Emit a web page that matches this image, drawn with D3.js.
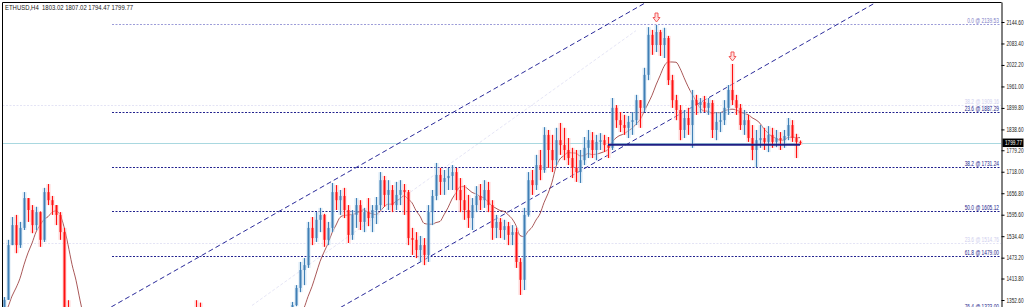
<!DOCTYPE html>
<html><head><meta charset="utf-8">
<script src="https://cdn.jsdelivr.net/npm/d3@7"></script>
<style>body{margin:0;background:#fff;} svg{display:block;}</style>
</head><body><svg id="c" width="1031" height="307"></svg>
<script>
// ---------------- data ----------------
const symbolTitle = "ETHUSD,H4";
const lastQuote = [1803.02, 1807.02, 1794.47, 1799.77]; // O H L C of last bar
const firstOpen = 1300;
const highs = [
 1305,1320,1300,1315,1325,1310,1320,1335,1330,
 1361,1524,1589,1595,1575,1660,1643,1623,1618,1605,1672,1683,1649,1623,1603,1558,
 1352,1140,1130,1165,1185,1200,1190,1175,1210,1225,1240,1220,1215,1245,1260,1250,1270,1280,1265,1255,1250,1270,1285,1275,1260,1280,1295,1285,1300,1310,1300,1320,1352,1345,1305,1290,1280,1290,1275,1265,1280,1270,1285,1275,1270,1285,1295,1285,1300,1290,1305,1295,1290,1295,1288,1300,
 1347,1395,1461,1472,1575,1589,1603,1615,1598,1575,1686,1680,1666,1672,1623,1609,1643,1637,1615,1643,1623,1646,1717,1706,1694,1680,1689,1694,1683,1666,1558,1546,1535,1529,1623,1666,1743,1729,1723,1729,1737,1729,1700,1680,1652,1643,1677,1683,1694,1689,1637,1595,1586,1581,1575,1566,1558,1472,1615,1717,1723,1766,1780,1845,1837,1823,1843,1857,1843,1814,1786,1780,1780,1817,1837,1831,1823,1828,1823,1817,1928,1908,1888,1880,1877,1888,1937,1922,2014,2130,2122,2136,2122,2128,2105,1994,1937,1908,1894,1900,1951,1937,1928,1934,1928,1922,1888,1888,1922,1965,2025,1937,1911,1894,1880,1851,1837,1851,1843,1848,1843,1837,1831,1837,1871,1865,1826,1807.02
];
const lows = [
 1275,1290,1270,1285,1295,1280,1290,1305,1300,
 1310,1353,1509,1486,1501,1552,1575,1543,1552,1504,1518,1623,1595,1566,1524,1267,
 1085,1072,1070,1105,1130,1150,1130,1120,1150,1175,1190,1170,1165,1195,1210,1200,1220,1230,1215,1200,1195,1225,1240,1225,1210,1235,1250,1240,1255,1265,1255,1270,1290,1280,1255,1240,1230,1240,1225,1215,1235,1220,1240,1225,1220,1240,1250,1240,1255,1245,1260,1250,1245,1250,1245,1255,
 1267,1335,1375,1395,1444,1509,1518,1546,1504,1509,1546,1609,1595,1586,1515,1524,1558,1552,1546,1563,1546,1569,1609,1618,1609,1603,1609,1623,1595,1509,1481,1472,1461,1452,1461,1566,1637,1652,1652,1666,1666,1637,1603,1581,1558,1552,1603,1609,1615,1603,1524,1529,1529,1524,1509,1509,1444,1367,1381,1590,1652,1666,1694,1715,1729,1717,1737,1766,1751,1737,1700,1689,1686,1737,1757,1757,1751,1780,1774,1757,1780,1843,1831,1823,1814,1823,1851,1843,1888,1979,2051,2059,2048,2042,1965,1900,1865,1808,1814,1823,1786,1880,1885,1888,1880,1814,1808,1831,1851,1880,1908,1880,1837,1823,1803,1751,1731,1786,1780,1774,1786,1788,1780,1786,1808,1803,1757,1794.47
];
const closes = [
 1290,1305,1285,1300,1310,1295,1305,1320,1315,
 1353,1509,1566,1509,1558,1643,1609,1566,1603,1524,1660,1637,1623,1595,1546,1296,
 1110,1095,1118,1150,1170,1160,1145,1165,1195,1210,1200,1185,1205,1235,1225,1240,1255,1245,1230,1220,1240,1260,1250,1235,1250,1270,1260,1275,1285,1275,1290,1305,1300,1290,1270,1255,1265,1250,1240,1255,1245,1260,1250,1245,1258,1270,1262,1275,1268,1280,1272,1265,1270,1262,1275,1280,
 1338,1387,1438,1452,1558,1529,1581,1595,1524,1558,1660,1637,1649,1609,1538,1595,1623,1575,1603,1586,1609,1623,1694,1652,1666,1623,1652,1666,1660,1529,1524,1495,1509,1481,1603,1649,1709,1689,1700,1706,1717,1666,1637,1609,1586,1623,1649,1637,1666,1623,1558,1575,1552,1563,1538,1546,1461,1410,1595,1694,1680,1737,1723,1823,1780,1751,1808,1794,1780,1757,1729,1717,1751,1786,1808,1780,1803,1808,1794,1786,1900,1865,1851,1843,1860,1865,1922,1900,1994,2108,2079,2116,2079,2099,1979,1922,1894,1837,1871,1851,1922,1908,1917,1900,1914,1837,1860,1865,1900,1951,1922,1900,1851,1865,1814,1780,1808,1814,1803,1823,1803,1814,1808,1820,1851,1814,1803.02,1799.77
];
const maPeriod = 9;
const yTicks = [2144.60, 2083.40, 2022.20, 1961.00, 1899.80, 1838.60, 1779.20, 1718.00, 1656.80, 1595.60, 1534.40, 1473.20, 1413.80, 1352.60];
const fibLevels = [0.0, 23.6, 38.2, 50.0, 61.8, 76.4];
const fibPrices = [2139.53, 1887.29, 1731.24, 1605.12, 1479.00, 1323.00];
const fibStartBar = 36;
const ghostFibLevels = [38.2, 23.6];
const ghostFibPrices = [1909.16, 1514.76];
const channelBars = [[38, 169], [94, 226]];
const channelPrices = [[1347, 2197], [1337, 2194]];
const ghostChannelBars = [71, 167];
const ghostChannelPrices = [1337, 2120];
const supportBars = [160, 208];
const supportPrice = 1795;
const arrowBars = [172, 191];

// ---------------- layout ----------------
const W = 1031, H = 307;
const plotL = 2.5, plotT = 2.5, plotR = 1001.5;
const n = closes.length;
const step = 4, lastX = 800;
const x = d3.scaleLinear().domain([0, n - 1]).range([lastX - step * (n - 1), lastX]);
const y = d3.scaleLinear().domain([2144.6, 1352.6]).range([22, 300]);
const font = "Liberation Sans, Arial, sans-serif";

const svg = d3.select("#c");
svg.append("rect").attr("width", W).attr("height", H).attr("fill", "#fff");
svg.append("defs").append("clipPath").attr("id", "clip")
  .append("rect").attr("x", plotL + 0.5).attr("y", plotT + 0.5).attr("width", plotR - plotL - 1).attr("height", H);
const g = svg.append("g").attr("clip-path", "url(#clip)");

// ghost fib lines (faint)
ghostFibPrices.forEach(p => {
  g.append("line").attr("x1", plotL).attr("x2", plotR)
    .attr("y1", Math.round(y(p)) + 0.5).attr("y2", Math.round(y(p)) + 0.5)
    .attr("stroke", "#e4e4f5").attr("stroke-dasharray", "2,1.5");
});
// ghost channel
g.append("line")
  .attr("x1", x(ghostChannelBars[0])).attr("y1", y(ghostChannelPrices[0]))
  .attr("x2", x(ghostChannelBars[1])).attr("y2", y(ghostChannelPrices[1]))
  .attr("stroke", "#e6e6f6").attr("stroke-dasharray", "3,2").attr("stroke-width", 1);

// fib lines
fibPrices.forEach((p, i) => {
  const yy = Math.round(y(p)) + 0.5;
  g.append("line").attr("x1", x(fibStartBar)).attr("x2", plotR)
    .attr("y1", yy).attr("y2", yy)
    .attr("stroke", i === 0 ? "#9c9cd8" : "#22228e").attr("stroke-dasharray", "2,1.5");
});

// current price line
g.append("line").attr("x1", plotL).attr("x2", plotR)
  .attr("y1", Math.round(y(lastQuote[3])) + 0.5).attr("y2", Math.round(y(lastQuote[3])) + 0.5)
  .attr("stroke", "#a9d8e0");

// channel lines (extended both ways)
channelBars.forEach((b, i) => {
  const p = channelPrices[i];
  const x1 = x(b[0]), y1 = y(p[0]), x2 = x(b[1]), y2 = y(p[1]);
  const s = (y2 - y1) / (x2 - x1);
  const xa = 0, xb = 1010;
  g.append("line").attr("x1", xa).attr("y1", y1 + s * (xa - x1))
    .attr("x2", xb).attr("y2", y1 + s * (xb - x1))
    .attr("stroke", "#2a2a9a").attr("stroke-dasharray", "5,3").attr("stroke-width", 1);
});

// moving average
const ma = closes.map((c, i) => i < maPeriod - 1 ? null : d3.mean(closes.slice(i - maPeriod + 1, i + 1)));
g.append("path")
  .datum(ma.map((v, i) => [i, v]).filter(d => d[1] !== null))
  .attr("fill", "none").attr("stroke", "#8e2323").attr("stroke-width", 0.9).attr("opacity", 0.85)
  .attr("d", d3.line().x(d => x(d[0])).y(d => y(d[1])).curve(d3.curveMonotoneX));

// candles
const bars = closes.map((c, i) => ({
  i, o: i === 0 ? firstOpen : closes[i - 1], h: highs[i], l: lows[i], c
}));
const cg = g.append("g");
bars.forEach(d => {
  const up = d.c >= d.o;
  const col = up ? "#3f7fb5" : "#ff1010";
  const halo = up ? "#c2dbee" : "#ffbcbc";
  const cx = Math.round(x(d.i));
  cg.append("rect").attr("x", cx - 1.5).attr("width", 4)
    .attr("y", y(d.h)).attr("height", Math.max(1, y(d.l) - y(d.h)))
    .attr("fill", halo).attr("opacity", 0.6);
  cg.append("line").attr("x1", cx + 0.5).attr("x2", cx + 0.5)
    .attr("y1", y(d.h)).attr("y2", y(d.l)).attr("stroke", col).attr("stroke-width", 1);
  const top = y(Math.max(d.o, d.c)), bot = y(Math.min(d.o, d.c));
  cg.append("rect").attr("x", cx - 0.5).attr("width", 2)
    .attr("y", top).attr("height", Math.max(1, bot - top)).attr("fill", col);
});

// support line
g.append("line")
  .attr("x1", x(supportBars[0])).attr("x2", x(supportBars[1]))
  .attr("y1", y(supportPrice)).attr("y2", y(supportPrice))
  .attr("stroke", "#1e1e84").attr("stroke-width", 2);

// arrows
arrowBars.forEach(b => {
  const cx = x(b) + 0.5, t = y(highs[b]) - 12;
  const p = `M${cx-1.5},${t} L${cx+1.5},${t} L${cx+1.5},${t+4.5} L${cx+3.5},${t+4.5} L${cx},${t+9} L${cx-3.5},${t+4.5} L${cx-1.5},${t+4.5} Z`;
  g.append("path").attr("d", p).attr("fill", "#ffe0e0").attr("stroke", "#f04a4a").attr("stroke-width", 0.9);
});

// fib labels
const fmt = d3.format(".2f");
fibPrices.forEach((p, i) => {
  const s = `${fibLevels[i].toFixed(1)} @ ${fmt(p)}`;
  svg.append("text").attr("x", 999).attr("y", Math.round(y(p)) - 1.5)
    .attr("text-anchor", "end").attr("font-family", font)
    .attr("font-size", 6.3).attr("fill", i === 0 ? "#7f7fc8" : "#1e1e8c")
    .attr("textLength", s.length * 2.45).attr("lengthAdjust", "spacingAndGlyphs").text(s);
});
ghostFibPrices.forEach((p, i) => {
  const s = `${ghostFibLevels[i].toFixed(1)} @ ${fmt(p)}`;
  svg.append("text").attr("x", 999).attr("y", Math.round(y(p)) - 1.5)
    .attr("text-anchor", "end").attr("font-family", font)
    .attr("font-size", 6.3).attr("fill", "#cfcfee")
    .attr("textLength", s.length * 2.45).attr("lengthAdjust", "spacingAndGlyphs").text(s);
});

// frame
svg.append("line").attr("x1", plotL).attr("x2", plotR).attr("y1", plotT).attr("y2", plotT).attr("stroke", "#000");
svg.append("line").attr("x1", plotL).attr("x2", plotL).attr("y1", plotT).attr("y2", H).attr("stroke", "#000");

// y axis
const axis = d3.axisRight(y).tickValues(yTicks).tickSize(3).tickPadding(2).tickFormat(fmt);
const ag = svg.append("g").attr("transform", `translate(${plotR},0)`).call(axis);
ag.select(".domain").attr("d", `M0.5,${plotT}V${H}`).attr("stroke", "#000");
ag.selectAll(".tick line").attr("stroke", "#000");
ag.selectAll(".tick text").attr("font-family", font)
  .attr("font-size", 6.3).attr("fill", "#222").attr("textLength", 17).attr("lengthAdjust", "spacingAndGlyphs");

// last price tag
const ly = y(lastQuote[3]);
svg.append("rect").attr("x", plotR + 1).attr("y", ly - 4.5).attr("width", 21).attr("height", 8.5).attr("fill", "#000");
svg.append("text").attr("x", plotR + 3.5).attr("y", ly + 2.2).attr("font-family", font)
  .attr("font-size", 6.3).attr("fill", "#fff").attr("textLength", 17).attr("lengthAdjust", "spacingAndGlyphs")
  .text(fmt(lastQuote[3]));

// title
const title = `${symbolTitle}  ${lastQuote.map(fmt).join(" ")}`;
svg.append("text").attr("x", 5).attr("y", 10).attr("font-family", font)
  .attr("font-size", 7).attr("fill", "#1a1a1a").attr("xml:space", "preserve")
  .attr("textLength", 128).attr("lengthAdjust", "spacingAndGlyphs").text(title);
</script></body></html>
